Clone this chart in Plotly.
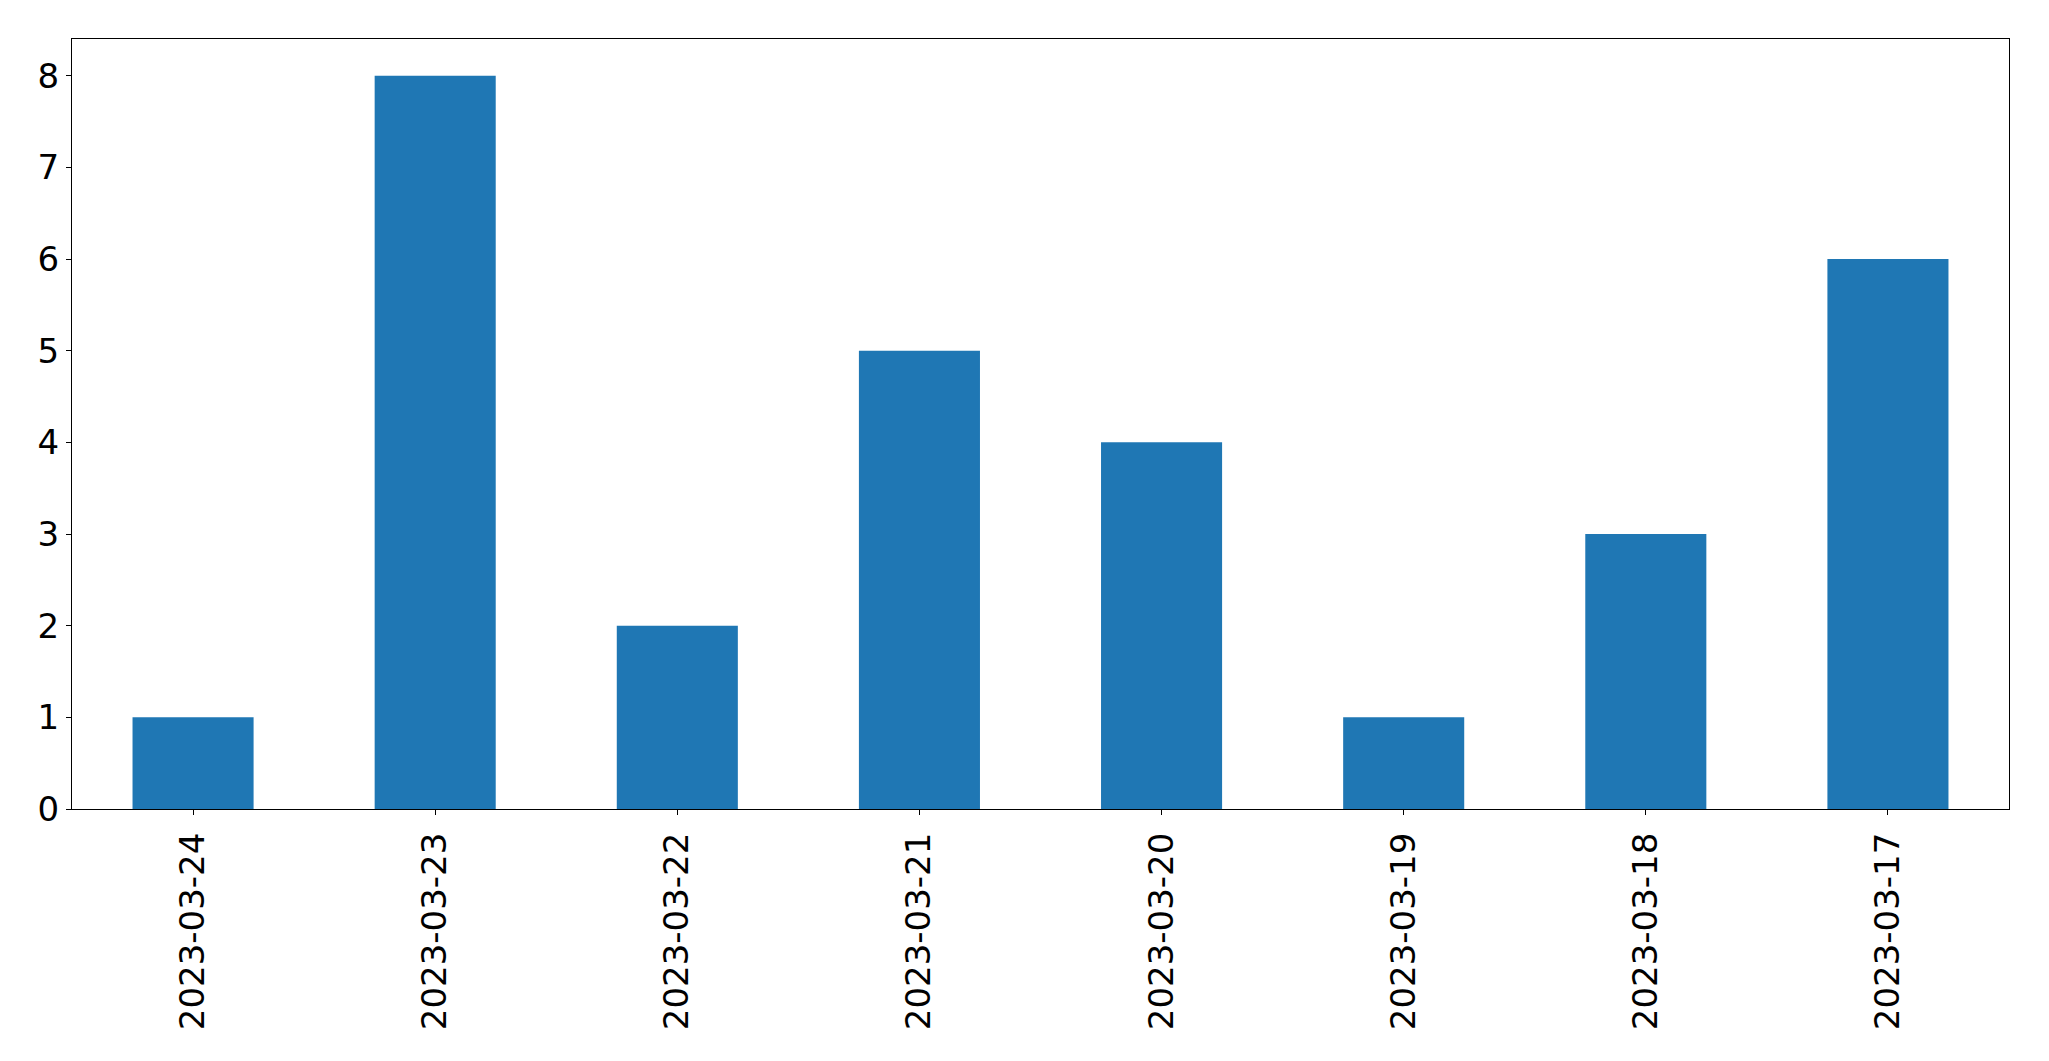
import plotly.graph_objects as go

dates = ["2023-03-24", "2023-03-23", "2023-03-22", "2023-03-21",
         "2023-03-20", "2023-03-19", "2023-03-18", "2023-03-17"]
counts = [1, 8, 2, 5, 4, 1, 3, 6]
y_ticks = [0, 1, 2, 3, 4, 5, 6, 7, 8]

fig = go.Figure(go.Bar(x=dates, y=counts, marker=dict(color="#1f77b4", line=dict(width=0))))

font = dict(family="DejaVu Sans", size=34, color="black")
fig.update_layout(
    width=2041, height=1053,
    margin=dict(l=64, r=40, t=31, b=252),
    paper_bgcolor="white", plot_bgcolor="white",
    bargap=0.5, showlegend=False,
    font=font,
)
fig.update_xaxes(
    type="category", range=[-0.5, len(dates) - 0.5],
    tickangle=-90, tickfont=font,
    showline=True, linecolor="black", linewidth=1.1, mirror=True,
    ticks="outside", ticklen=5, tickwidth=1.1, tickcolor="black",
    showgrid=False, zeroline=False, ticklabelstandoff=4,
)
fig.update_yaxes(
    range=[0, 8.4], tickvals=y_ticks, tickfont=font,
    showline=True, linecolor="black", linewidth=1.1, mirror=True,
    ticks="outside", ticklen=5, tickwidth=1.1, tickcolor="black",
    showgrid=False, zeroline=False, ticklabelstandoff=0,
)
fig.write_html("out.html")
